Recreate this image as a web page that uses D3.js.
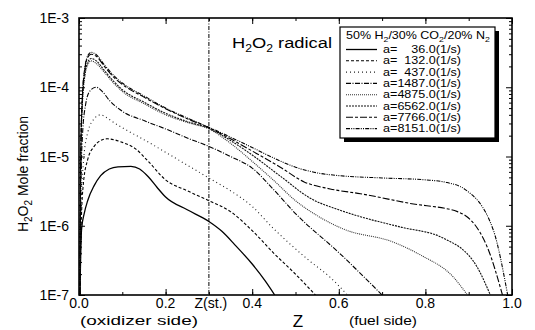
<!DOCTYPE html>
<html><head><meta charset="utf-8">
<script src="https://cdn.jsdelivr.net/npm/d3@7"></script>
<style>
body{margin:0;background:#fff}
svg{display:block}
text{font-family:"Liberation Sans",Arial,Helvetica,sans-serif;fill:#000}
</style>
</head><body>
<svg id="chart" width="535" height="330"></svg>
<script>
// ---- data (Z, H2O2 mole fraction) ----
const strainRates = ["36.0", "132.0", "437.0", "1487.0", "4875.0", "6562.0", "7766.0", "8151.0"];
const s36 = [[0.002,1e-7],[0.004,4e-7],[0.006,9e-7],[0.012,1.5e-6],[0.02,2.3e-6],[0.035,3.8e-6],[0.05,5.3e-6],[0.07,6.6e-6],[0.09,7.1e-6],[0.12,7.2e-6],[0.14,6.6e-6],[0.16,5.1e-6],[0.18,3.6e-6],[0.2,2.6e-6],[0.25,1.7e-6],[0.3,1.15e-6],[0.33,8.3e-7],[0.36,5.3e-7],[0.4,2.8e-7],[0.43,1.6e-7],[0.452,1e-7]];
const s132 = [[0.002,1e-7],[0.005,1e-6],[0.01,4e-6],[0.02,9e-6],[0.035,1.4e-5],[0.05,1.7e-5],[0.065,1.8e-5],[0.08,1.75e-5],[0.1,1.6e-5],[0.13,1.3e-5],[0.16,8.5e-6],[0.2,4.6e-6],[0.25,3.2e-6],[0.3,2.3e-6],[0.35,1.6e-6],[0.4,8.5e-7],[0.45,4e-7],[0.5,2e-7],[0.546,1e-7]];
const s437 = [[0.002,1e-7],[0.005,2e-6],[0.01,8e-6],[0.02,2.2e-5],[0.035,3.5e-5],[0.05,4.0e-5],[0.065,3.6e-5],[0.08,3.1e-5],[0.1,2.6e-5],[0.15,1.75e-5],[0.2,1.15e-5],[0.25,7.5e-6],[0.3,4.9e-6],[0.35,3.2e-6],[0.4,1.9e-6],[0.45,9e-7],[0.48,6e-7],[0.53,3.2e-7],[0.58,1.8e-7],[0.62,1e-7]];
const s1487 = [[0.002,1e-7],[0.004,3e-6],[0.008,2e-5],[0.015,5.5e-5],[0.025,8.8e-5],[0.04,1.0e-4],[0.055,8.5e-5],[0.07,6.5e-5],[0.1,4.5e-5],[0.15,3.3e-5],[0.2,2.5e-5],[0.25,1.85e-5],[0.3,1.4e-5],[0.35,1.0e-5],[0.4,6.8e-6],[0.45,3.3e-6],[0.5,1.5e-6],[0.6,4.1e-7],[0.7,1e-7]];
const s4875 = [[0.002,1e-7],[0.004,8e-6],[0.008,6e-5],[0.014,1.5e-4],[0.02,2.1e-4],[0.028,2.4e-4],[0.04,2.2e-4],[0.06,1.6e-4],[0.08,1.15e-4],[0.1,8.7e-5],[0.15,5.8e-5],[0.2,4.0e-5],[0.25,3.1e-5],[0.3,2.5e-5],[0.35,1.55e-5],[0.4,8.5e-6],[0.45,4.5e-6],[0.5,2.3e-6],[0.55,1.4e-6],[0.61,9e-7],[0.726,5.8e-7],[0.788,3.8e-7],[0.865,1.8e-7],[0.897,1e-7]];
const s6562 = [[0.002,1e-7],[0.004,9e-6],[0.008,6.5e-5],[0.014,1.6e-4],[0.02,2.3e-4],[0.028,2.6e-4],[0.04,2.4e-4],[0.06,1.7e-4],[0.08,1.22e-4],[0.1,9.2e-5],[0.15,6.1e-5],[0.2,4.2e-5],[0.25,3.2e-5],[0.3,2.55e-5],[0.35,1.7e-5],[0.4,1.05e-5],[0.465,5.2e-6],[0.534,2.5e-6],[0.6,1.7e-6],[0.65,1.35e-6],[0.742,9.6e-7],[0.842,6.6e-7],[0.92,2.5e-7],[0.95,1e-7]];
const s7766 = [[0.002,1e-7],[0.004,1e-5],[0.008,7.5e-5],[0.014,1.9e-4],[0.02,2.7e-4],[0.028,3.0e-4],[0.04,2.8e-4],[0.06,1.95e-4],[0.08,1.4e-4],[0.1,1.1e-4],[0.15,7.2e-5],[0.2,4.9e-5],[0.25,3.5e-5],[0.3,2.6e-5],[0.35,1.8e-5],[0.4,1.2e-5],[0.465,7.0e-6],[0.52,4.3e-6],[0.58,3.4e-6],[0.65,2.9e-6],[0.765,2.1e-6],[0.874,1.6e-6],[0.943,4.9e-7],[0.978,1e-7]];
const s8151 = [[0.002,1e-7],[0.004,1.1e-5],[0.008,8e-5],[0.014,2e-4],[0.02,2.85e-4],[0.028,3.2e-4],[0.04,2.95e-4],[0.06,2.05e-4],[0.08,1.48e-4],[0.1,1.15e-4],[0.15,7.5e-5],[0.2,5.0e-5],[0.25,3.6e-5],[0.3,2.65e-5],[0.35,1.9e-5],[0.4,1.35e-5],[0.45,9.5e-6],[0.5,7.0e-6],[0.55,5.8e-6],[0.6,5.3e-6],[0.7,4.9e-6],[0.8,4.6e-6],[0.85,4.2e-6],[0.89,3.4e-6],[0.957,8.6e-7],[0.99,1e-7]];
const seriesData = [s36, s132, s437, s1487, s4875, s6562, s7766, s8151];
const xTickLabels = ["0.0","0.2","0.4","0.6","0.8","1.0"];
const yTickLabels = ["1E-7","1E-6","1E-5","1E-4","1E-3"];
const zStoich = 0.3;

// ---- styles ----
const dashes = [null, "3,2", "1,3", "5,1.5,1,1.5", "1,1", "2,1", "7,2,3,2", "4,1.2,1,1.2,1,1.2"];
const strokes = ["#000","#000","#222","#000","#333","#111","#000","#000"];

const svg = d3.select("#chart");
const L = 79, R = 512, T = 18, B = 295;
const x = d3.scaleLinear().domain([0, 1]).range([L, R]);
const y = d3.scaleLog().domain([1e-7, 1e-3]).range([B, T]);

svg.append("clipPath").attr("id","clip").append("rect")
  .attr("x", L).attr("y", T).attr("width", R-L).attr("height", B-T);

// ticks
const xMinor = d3.range(0, 11).map(i => i/10);
const xMajor = d3.range(0, 6).map(i => i/5);
const yMajor = [1e-7,1e-6,1e-5,1e-4,1e-3];
const yMinor = [];
for (let e = -7; e < -3; e++) for (let k = 2; k <= 9; k++) yMinor.push(k*Math.pow(10,e));

function axisGroup(axis, tx, ty) {
  const g = svg.append("g").attr("transform", `translate(${tx},${ty})`).call(axis);
  g.select(".domain").remove();
  g.selectAll("line").attr("stroke","#000").attr("stroke-width",1);
  g.selectAll("text").remove();
  return g;
}
axisGroup(d3.axisBottom(x).tickValues(xMinor).tickSize(-3), 0, B);
axisGroup(d3.axisBottom(x).tickValues(xMajor).tickSize(-6), 0, B);
axisGroup(d3.axisTop(x).tickValues(xMinor).tickSize(-3), 0, T);
axisGroup(d3.axisTop(x).tickValues(xMajor).tickSize(-6), 0, T);
axisGroup(d3.axisLeft(y).tickValues(yMinor).tickSize(-3), L, 0);
axisGroup(d3.axisLeft(y).tickValues(yMajor).tickSize(-6), L, 0);
axisGroup(d3.axisRight(y).tickValues(yMinor).tickSize(-3), R, 0);
axisGroup(d3.axisRight(y).tickValues(yMajor).tickSize(-6), R, 0);

// frame
svg.append("rect").attr("x", L).attr("y", T).attr("width", R-L).attr("height", B-T)
  .attr("fill","none").attr("stroke","#000").attr("stroke-width",1.6);

// stoichiometric line
svg.append("line").attr("x1", x(zStoich)).attr("x2", x(zStoich)).attr("y1", T).attr("y2", B)
  .attr("stroke","#000").attr("stroke-width",1).attr("stroke-dasharray","4,1.5,1,1.5");

// curves
const line = d3.line().x(d => x(d[0])).y(d => y(d[1])).curve(d3.curveMonotoneX);
const gLines = svg.append("g").attr("clip-path","url(#clip)");
seriesData.forEach((s, i) => {
  gLines.append("path").attr("d", line(s)).attr("fill","none")
    .attr("stroke", strokes[i]).attr("stroke-width", i === 0 ? 1.3 : 1.1)
    .attr("stroke-dasharray", dashes[i]);
});

// tick labels
svg.append("g").selectAll("text").data(xTickLabels).join("text")
  .attr("x", (d) => x(+d)).attr("y", 308).attr("text-anchor","middle")
  .attr("font-size", 14).text(d => d);
svg.append("text").attr("x", x(zStoich)+2).attr("y", 308).attr("text-anchor","middle")
  .attr("font-size", 14).text("Z(st.)");
svg.append("g").selectAll("text").data(yTickLabels).join("text")
  .attr("x", 69).attr("y", d => y(+d.replace("E","e")) + 5).attr("text-anchor","end")
  .attr("font-size", 14).text(d => d);

// axis titles
svg.append("text").attr("x", 80).attr("y", 325).attr("font-size", 13)
  .attr("textLength", 118).attr("lengthAdjust","spacingAndGlyphs").text("(oxidizer side)");
svg.append("text").attr("x", 298).attr("y", 327).attr("text-anchor","middle").attr("font-size", 17).text("Z");
svg.append("text").attr("x", 349).attr("y", 325).attr("font-size", 13)
  .attr("textLength", 68).attr("lengthAdjust","spacingAndGlyphs").text("(fuel side)");

const yt = svg.append("text").attr("transform","translate(28,174) rotate(-90)")
  .attr("text-anchor","middle").attr("font-size", 14);
yt.append("tspan").text("H");
yt.append("tspan").attr("font-size",10).attr("dy",4).text("2");
yt.append("tspan").attr("dy",-4).text("O");
yt.append("tspan").attr("font-size",10).attr("dy",4).text("2");
yt.append("tspan").attr("dy",-4).text(" Mole fraction");

// chart annotation
const ann = svg.append("text").attr("transform","translate(232,48) scale(1.22,1)").attr("font-size", 15);
ann.append("tspan").text("H");
ann.append("tspan").attr("font-size",10).attr("dy",4).text("2");
ann.append("tspan").attr("dy",-4).text("O");
ann.append("tspan").attr("font-size",10).attr("dy",4).text("2");
ann.append("tspan").attr("dy",-4).text(" radical");

// legend
const lgX = 340, lgY = 27, lgW = 155, lgH = 111;
svg.append("rect").attr("x", lgX+4).attr("y", lgY+4).attr("width", lgW).attr("height", lgH).attr("fill","#000");
svg.append("rect").attr("x", lgX).attr("y", lgY).attr("width", lgW).attr("height", lgH)
  .attr("fill","#fff").attr("stroke","#000").attr("stroke-width",1.2);
const lgFont = 10, valEnd = 461, rowStep = 11.3, row0 = 49.5;

// title, stretched horizontally to the box width
const lt = svg.append("text").attr("font-size", lgFont);
lt.append("tspan").text("50% H");
lt.append("tspan").attr("font-size",7).attr("dy",2.5).text("2");
lt.append("tspan").attr("dy",-2.5).text("/30% CO");
lt.append("tspan").attr("font-size",7).attr("dy",2.5).text("2");
lt.append("tspan").attr("dy",-2.5).text("/20% N");
lt.append("tspan").attr("font-size",7).attr("dy",2.5).text("2");
const tW = lt.node().getComputedTextLength();
lt.attr("transform", `translate(${lgX+6},${lgY+12}) scale(${144/tW},1)`);

const probe = svg.append("text").attr("font-size", lgFont).text("1487.0(1/s)");
const wideW = probe.node().getComputedTextLength();
probe.text("a=1487.0(1/s)");
const fullW = probe.node().getComputedTextLength();
probe.remove();
const sx = 78 / fullW;

strainRates.forEach((a, i) => {
  const cy = row0 + i*rowStep;
  svg.append("line").attr("x1", 346).attr("x2", 377).attr("y1", cy).attr("y2", cy)
    .attr("stroke", strokes[i]).attr("stroke-width", i === 0 ? 1.3 : 1.1).attr("stroke-dasharray", dashes[i]);
  const t = svg.append("text").attr("font-size", lgFont)
    .attr("transform", `translate(${valEnd},${cy+3.6}) scale(${sx},1)`);
  t.append("tspan").attr("x", -wideW).attr("text-anchor","end").text("a=");
  t.append("tspan").attr("x", 0).attr("text-anchor","end").text(a + "(1/s)");
});
</script>
</body></html>
